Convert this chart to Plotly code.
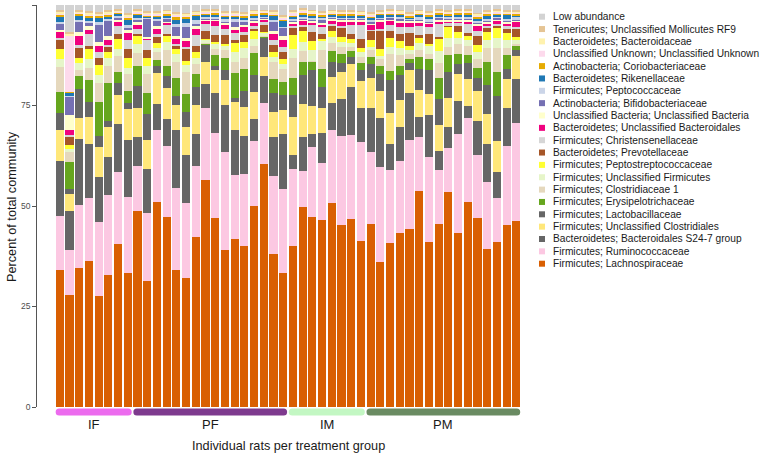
import plotly.graph_objects as go

# ---------------- data ----------------
rat_index = list(range(48))
group_names = ["IF", "PF", "IM", "PM"]
group_first = [0, 8, 24, 32]
group_last = [7, 23, 31, 47]
group_colors = ["#EC6BEE", "#7E3A8E", "#C3F7C3", "#6A8B62"]

lachnospiraceae = [34.1, 28.0, 34.7, 36.2, 27.7, 33.2, 40.5, 33.4, 48.8, 31.5, 51.3, 47.6, 34.1, 32.2, 42.4, 56.5, 47.3, 39.1, 41.8, 40.1, 50.3, 60.3, 38.2, 33.4, 40.1, 50.1, 47.8, 46.9, 51.0, 45.3, 46.9, 41.3, 45.5, 36.3, 40.9, 43.4, 44.3, 54.1, 41.1, 45.7, 53.6, 43.4, 50.9, 46.9, 39.3, 41.1, 45.5, 46.3]
ruminococcaceae = [13.5, 11.1, 15.7, 15.8, 18.3, 19.9, 18.1, 18.9, 11.3, 16.8, 18.0, 18.0, 20.6, 18.6, 17.7, 18.0, 21.3, 24.5, 16.0, 17.9, 16.1, 15.2, 19.4, 20.7, 19.2, 9.0, 17.4, 14.3, 18.3, 22.3, 21.0, 24.6, 18.1, 23.6, 18.0, 18.2, 22.1, 13.5, 21.1, 13.6, 11.0, 24.6, 21.0, 15.7, 16.7, 10.8, 19.6, 24.4]
s24_7 = [13.6, 9.8, 16.6, 13.3, 11.1, 9.7, 11.8, 14.0, 7.3, 11.0, 6.5, 6.7, 14.4, 12.0, 7.9, 6.1, 9.8, 11.5, 11.3, 9.6, 5.7, 6.7, 9.6, 13.7, 3.5, 8.5, 3.3, 7.4, 6.8, 9.3, 12.1, 8.5, 10.8, 12.3, 6.5, 8.3, 11.7, 5.0, 10.4, 4.6, 5.2, 8.2, 2.8, 8.5, 9.6, 6.5, 9.6, 11.0]
uncl_clostridiales = [7.7, 4.2, 5.2, 6.8, 7.7, 7.4, 7.3, 7.9, 7.1, 7.3, 7.5, 7.8, 6.2, 6.9, 7.3, 5.4, 5.9, 6.4, 6.9, 7.1, 6.6, 4.7, 6.3, 5.9, 9.6, 8.2, 7.2, 6.3, 6.4, 6.7, 5.7, 6.7, 7.5, 6.7, 7.7, 6.8, 5.8, 6.7, 5.4, 6.7, 7.2, 6.7, 6.7, 7.5, 7.3, 7.7, 7.1, 5.7]
lactobacillaceae = [4.4, 1.3, 7.3, 3.8, 2.6, 1.5, 2.9, 1.5, 5.6, 6.4, 1.9, 2.9, 2.3, 3.8, 4.4, 4.3, 1.0, 2.5, 1.0, 3.9, 4.2, 5.0, 4.8, 3.8, 5.3, 7.3, 8.9, 5.2, 3.8, 2.3, 1.7, 2.8, 3.6, 4.2, 8.3, 6.4, 1.7, 5.4, 5.8, 6.4, 6.4, 2.5, 4.2, 3.2, 7.2, 11.3, 2.7, 1.4]
erysipelotrichaceae = [5.2, 6.7, 3.2, 5.3, 8.5, 9.5, 2.9, 2.9, 4.8, 5.3, 1.4, 2.7, 4.4, 4.6, 3.3, 0.2, 2.8, 2.9, 6.1, 5.5, 5.7, 0.1, 3.5, 3.3, 4.3, 3.3, 2.1, 4.6, 2.7, 2.1, 1.6, 1.8, 1.7, 2.1, 2.2, 2.1, 1.1, 2.9, 2.9, 5.3, 4.2, 2.5, 1.9, 2.5, 5.8, 6.0, 3.3, 1.1]
clostridiaceae_1 = [6.1, 2.3, 1.5, 3.0, 4.6, 4.4, 4.0, 4.3, 3.3, 4.5, 2.1, 3.9, 3.9, 5.3, 2.5, 0.2, 1.4, 1.9, 2.9, 2.7, 1.7, 0.1, 4.2, 3.3, 5.0, 2.8, 0.3, 4.8, 1.9, 1.7, 0.9, 1.5, 1.7, 1.7, 4.2, 2.9, 1.2, 1.7, 1.3, 3.8, 2.1, 2.3, 2.1, 2.3, 3.5, 6.0, 1.9, 0.6]
uncl_firmicutes = [2.0, 0.8, 1.7, 2.3, 2.1, 1.9, 1.7, 1.5, 2.2, 2.1, 1.0, 1.9, 2.1, 1.8, 1.4, 0.8, 1.4, 1.3, 2.5, 2.7, 1.8, 1.0, 1.3, 1.2, 2.3, 2.1, 2.7, 2.3, 1.7, 1.4, 1.0, 1.3, 0.8, 0.8, 1.8, 1.7, 1.1, 1.7, 2.1, 2.9, 2.3, 1.7, 1.7, 1.7, 2.1, 2.5, 1.9, 0.8]
peptostreptococcaceae = [2.6, 1.0, 1.2, 2.4, 2.5, 1.5, 2.5, 2.3, 2.1, 2.1, 1.3, 1.7, 1.3, 1.0, 1.7, 0.2, 0.3, 0.3, 2.1, 1.3, 1.9, 0.1, 1.1, 1.3, 3.5, 2.7, 2.3, 0.3, 1.3, 1.3, 1.0, 1.0, 1.7, 1.7, 2.3, 1.7, 0.8, 1.3, 0.3, 3.1, 2.8, 1.4, 1.0, 1.8, 1.9, 2.3, 1.7, 0.8]
prevotellaceae = [2.2, 2.1, 2.5, 0.8, 1.8, 1.3, 1.2, 2.3, 0.4, 1.8, 1.4, 0.4, 0.8, 3.2, 1.5, 1.9, 1.9, 2.3, 0.8, 1.8, 0.6, 1.8, 1.8, 1.5, 1.7, 1.1, 2.1, 1.3, 1.5, 2.3, 1.3, 2.2, 2.3, 4.6, 1.7, 1.7, 3.3, 0.8, 2.5, 0.3, 0.3, 1.5, 0.7, 2.1, 1.0, 0.7, 1.2, 2.1]
christensenellaceae = [0.5, 0.5, 0.8, 3.0, 1.5, 0.6, 1.9, 2.3, 1.4, 2.8, 0.8, 2.3, 0.4, 0.4, 2.7, 1.9, 2.1, 1.5, 1.7, 0.8, 0.7, 0.6, 1.3, 1.4, 0.4, 0.4, 2.1, 1.7, 0.4, 0.4, 2.3, 3.5, 0.3, 0.4, 1.4, 1.7, 1.4, 2.3, 1.7, 3.3, 0.4, 0.8, 2.3, 1.4, 0.4, 0.4, 0.6, 0.4]
uncl_bacteroidales = [1.5, 1.3, 2.2, 1.0, 1.4, 1.3, 1.1, 1.8, 0.8, 0.2, 1.3, 0.5, 1.3, 1.4, 1.3, 0.8, 1.3, 1.1, 0.8, 1.3, 0.8, 0.7, 1.4, 1.7, 0.8, 1.1, 0.5, 0.6, 0.8, 1.1, 0.8, 0.8, 1.1, 1.8, 1.1, 1.3, 1.3, 0.8, 0.8, 0.7, 0.6, 0.4, 0.6, 1.3, 0.8, 0.8, 0.8, 1.3]
uncl_bacteria = [0.5, 3.5, 1.1, 1.0, 0.9, 0.8, 0.6, 0.9, 0.8, 0.3, 0.7, 0.3, 0.7, 0.8, 1.0, 0.3, 0.3, 0.4, 0.8, 0.5, 0.4, 0.3, 0.7, 0.9, 0.4, 0.4, 0.4, 0.4, 0.4, 0.4, 0.4, 0.4, 0.5, 0.4, 0.4, 0.4, 0.4, 0.4, 0.4, 0.4, 0.4, 0.4, 0.4, 0.4, 0.4, 0.4, 0.4, 0.4]
bifidobacteriaceae = [1.5, 4.6, 2.5, 0.8, 4.3, 3.8, 0.4, 0.3, 0.7, 4.6, 1.2, 0.8, 2.3, 2.8, 0.3, 0.2, 0.2, 0.2, 1.4, 0.8, 0.3, 0.2, 2.3, 2.1, 0.3, 0.3, 0.3, 1.0, 0.3, 0.3, 0.3, 0.3, 0.3, 0.3, 0.3, 0.6, 0.3, 0.3, 0.3, 0.6, 0.3, 0.3, 0.3, 0.3, 0.3, 0.3, 0.3, 0.3]
peptococcaceae = [0.5, 0.3, 0.5, 0.4, 0.7, 0.7, 0.4, 0.7, 0.3, 0.3, 0.5, 0.3, 0.6, 0.8, 1.0, 0.5, 0.5, 0.6, 0.4, 0.4, 0.4, 0.3, 0.5, 0.3, 0.4, 0.4, 0.4, 0.4, 0.3, 0.4, 0.4, 0.4, 0.4, 0.4, 0.4, 0.4, 0.3, 0.8, 0.4, 0.3, 0.4, 0.4, 0.4, 0.4, 0.4, 0.4, 0.4, 0.4]
rikenellaceae = [1.2, 0.7, 1.0, 0.8, 1.0, 0.6, 0.6, 1.5, 0.9, 0.3, 0.6, 0.4, 1.1, 1.3, 1.1, 0.4, 0.6, 0.5, 0.5, 0.5, 0.5, 0.3, 1.0, 1.5, 0.4, 0.5, 0.4, 0.4, 0.4, 0.3, 0.4, 0.3, 0.6, 0.4, 0.4, 0.4, 0.3, 0.4, 0.8, 0.4, 0.4, 0.6, 0.5, 0.7, 0.8, 0.4, 0.8, 0.6]
coriobacteriaceae = [0.6, 0.3, 0.6, 0.7, 0.7, 0.4, 0.3, 0.4, 0.4, 0.3, 0.4, 0.6, 0.8, 0.4, 0.4, 0.5, 0.4, 0.6, 0.6, 0.6, 0.6, 0.6, 0.5, 0.4, 0.5, 0.6, 0.6, 0.4, 0.4, 0.5, 0.4, 0.4, 0.4, 0.5, 0.4, 0.4, 0.4, 0.4, 0.4, 0.4, 0.4, 0.4, 0.5, 0.4, 0.4, 0.4, 0.5, 0.4]
uncl_unknown = [0.3, 13.9, 0.3, 0.2, 0.3, 0.3, 0.3, 0.2, 0.3, 0.3, 0.3, 0.3, 0.3, 0.3, 0.2, 0.3, 0.3, 0.3, 0.3, 0.3, 0.3, 0.2, 0.3, 0.3, 0.4, 0.3, 0.3, 0.3, 0.3, 0.3, 0.3, 0.3, 0.4, 0.3, 0.3, 0.3, 0.3, 0.3, 0.3, 0.3, 0.3, 0.3, 0.3, 0.3, 0.3, 0.3, 0.3, 0.3]
bacteroidaceae = [0.4, 0.7, 0.3, 0.4, 0.3, 0.5, 0.3, 0.5, 0.4, 0.4, 0.4, 0.3, 0.5, 0.4, 0.4, 0.4, 0.4, 0.4, 0.3, 0.3, 0.4, 0.3, 0.4, 0.4, 0.5, 0.4, 0.4, 0.3, 0.3, 0.3, 0.4, 0.3, 0.3, 0.3, 0.3, 0.3, 0.3, 0.3, 0.3, 0.4, 0.3, 0.3, 0.3, 0.4, 0.3, 0.3, 0.3, 0.3]
tenericutes = [0.4, 0.2, 0.3, 0.3, 0.3, 0.4, 0.2, 0.3, 0.3, 0.3, 0.3, 0.3, 0.4, 0.3, 0.3, 0.3, 0.3, 0.3, 0.3, 0.3, 0.3, 0.2, 0.3, 0.3, 0.4, 0.3, 0.3, 0.3, 0.3, 0.3, 0.3, 0.3, 0.3, 0.3, 0.3, 0.3, 0.3, 0.3, 0.3, 0.3, 0.3, 0.3, 0.3, 0.3, 0.3, 0.3, 0.3, 0.3]
low_abundance = [1.3, 6.8, 1.2, 1.6, 1.7, 1.2, 1.1, 2.1, 1.0, 1.5, 1.5, 1.2, 1.7, 1.9, 1.4, 1.0, 1.0, 1.5, 1.6, 1.7, 1.2, 1.2, 1.3, 2.5, 1.2, 0.8, 1.2, 1.5, 1.2, 1.3, 1.2, 1.4, 1.8, 1.2, 1.1, 1.2, 1.7, 1.2, 1.5, 1.0, 1.2, 1.0, 1.0, 1.9, 1.3, 1.1, 1.2, 1.2]

# stacking order: bottom -> top
taxa_names = [
    "Firmicutes; Lachnospiraceae",
    "Firmicutes; Ruminococcaceae",
    "Bacteroidetes; Bacteroidales S24-7 group",
    "Firmicutes; Unclassified Clostridiales",
    "Firmicutes; Lactobacillaceae",
    "Firmicutes; Erysipelotrichaceae",
    "Firmicutes; Clostridiaceae 1",
    "Firmicutes; Unclassified Firmicutes",
    "Firmicutes; Peptostreptococcaceae",
    "Bacteroidetes; Prevotellaceae",
    "Firmicutes; Christensenellaceae",
    "Bacteroidetes; Unclassified Bacteroidales",
    "Unclassified Bacteria; Unclassified Bacteria",
    "Actinobacteria; Bifidobacteriaceae",
    "Firmicutes; Peptococcaceae",
    "Bacteroidetes; Rikenellaceae",
    "Actinobacteria; Coriobacteriaceae",
    "Unclassified Unknown; Unclassified Unknown",
    "Bacteroidetes; Bacteroidaceae",
    "Tenericutes; Unclassified Mollicutes RF9",
    "Low abundance",
]
taxa_values = [
    lachnospiraceae, ruminococcaceae, s24_7, uncl_clostridiales, lactobacillaceae,
    erysipelotrichaceae, clostridiaceae_1, uncl_firmicutes, peptostreptococcaceae,
    prevotellaceae, christensenellaceae, uncl_bacteroidales, uncl_bacteria,
    bifidobacteriaceae, peptococcaceae, rikenellaceae, coriobacteriaceae,
    uncl_unknown, bacteroidaceae, tenericutes, low_abundance,
]
taxa_colors = [
    "#D95F02", "#FCC8E2", "#666666", "#FFE77A", "#666666",
    "#66A61E", "#E5D8BD", "#E6F5C9", "#FFFF33", "#A65628",
    "#D6D6D6", "#F0027F", "#FFFFCC", "#7570B3", "#CBD5E8",
    "#1F78B4", "#E6AB02", "#FDDAEC", "#FFF2AE", "#E5C494",
    "#D3D3D3",
]

# ---------------- figure ----------------
W, H = 760, 455
ML, MR, MT, MB = 37, 239, 5, 48
PW, PH = W - ML - MR, H - MT - MB


def xp(px):
    return (px - ML) / PW


def yp(py):
    return (H - MB - py) / PH


fig = go.Figure()
for name, vals, col in zip(taxa_names, taxa_values, taxa_colors):
    fig.add_trace(go.Bar(
        x=rat_index, y=vals, name=name,
        marker=dict(color=col, line=dict(width=0)),
        showlegend=False,
        hovertemplate=name + ": %{y:.1f}%<extra></extra>",
    ))

shapes = []
annotations = []

# treatment group bands (rounded pills) and labels
y_top, y_bot = yp(408.5), yp(415.5)
y_mid = (y_top + y_bot) / 2
r = 0.36
for gname, a, b, gcol in zip(group_names, group_first, group_last, group_colors):
    xa, xb = a - 0.43, b + 0.4
    path = (f"M {xa + r},{y_top} L {xb - r},{y_top} "
            f"Q {xb},{y_top} {xb},{y_mid} Q {xb},{y_bot} {xb - r},{y_bot} "
            f"L {xa + r},{y_bot} Q {xa},{y_bot} {xa},{y_mid} Q {xa},{y_top} {xa + r},{y_top} Z")
    shapes.append(dict(type="path", xref="x", yref="paper", path=path,
                       fillcolor=gcol, line=dict(width=0), layer="above"))
    annotations.append(dict(x=(a + b) / 2, y=yp(424), xref="x", yref="paper",
                            text=gname, showarrow=False, xanchor="center", yanchor="middle",
                            font=dict(size=13, color="#1a1a1a")))

# axis titles
annotations.append(dict(x=23.5, y=yp(446), xref="x", yref="paper",
                        text="Individual rats per treatment group", showarrow=False,
                        xanchor="center", yanchor="middle",
                        font=dict(size=12.7, color="#1a1a1a")))
annotations.append(dict(x=xp(12), y=yp(207), xref="paper", yref="paper",
                        text="Percent of total community", showarrow=False, textangle=-90,
                        xanchor="center", yanchor="middle",
                        font=dict(size=12.7, color="#1a1a1a")))

# custom legend (top entry = top of stack)
leg_y0, leg_dy = 16.7, 12.35
for i, (name, col) in enumerate(zip(taxa_names[::-1], taxa_colors[::-1])):
    cy = leg_y0 + i * leg_dy
    shapes.append(dict(type="rect", xref="paper", yref="paper",
                       x0=xp(539), x1=xp(545), y0=yp(cy + 3), y1=yp(cy - 3),
                       fillcolor=col, line=dict(width=0)))
    annotations.append(dict(x=xp(551), y=yp(cy), xref="paper", yref="paper",
                            text=name, showarrow=False, xanchor="left", yanchor="middle",
                            font=dict(size=10.2, color="#1a1a1a")))

fig.update_layout(
    width=W, height=H,
    margin=dict(l=ML, r=MR, t=MT, b=MB, pad=0),
    barmode="stack", barnorm="percent", bargap=0.155,
    paper_bgcolor="white", plot_bgcolor="white",
    font=dict(family="Liberation Sans, Arial, sans-serif", color="#1a1a1a"),
    xaxis=dict(range=[-2.35, 47.48], showticklabels=False, ticks="", showline=False,
               showgrid=False, zeroline=False, fixedrange=True),
    yaxis=dict(range=[0, 100], tickvals=[0, 25, 50, 75, 100], ticks="outside", ticklen=4,
               tickwidth=0.8, tickcolor="#555555", showline=True, linecolor="#555555",
               linewidth=0.8, showgrid=False, zeroline=False,
               tickfont=dict(size=8.5, color="#4D4D4D"), fixedrange=True),
    shapes=shapes, annotations=annotations,
    showlegend=False,
)

fig.write_html("out.html")
